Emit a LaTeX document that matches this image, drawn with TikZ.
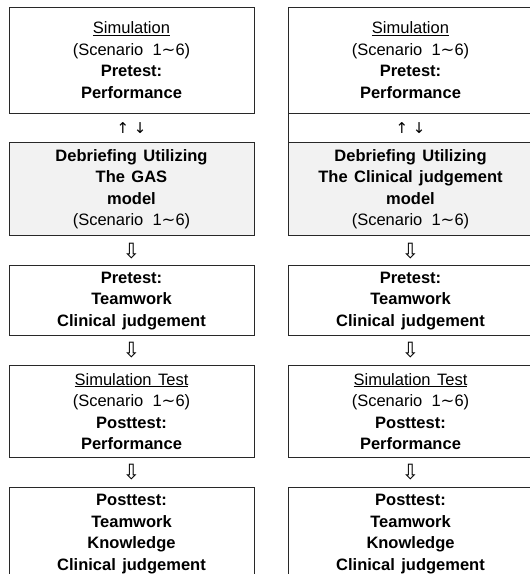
\documentclass[tikz,border=0pt]{standalone}
\usepackage{fontspec}
\setmainfont{Liberation Sans}[WordSpace=1.4]
\newfontfamily\symfont{DejaVu Sans}
\usetikzlibrary{positioning}
\definecolor{BoxLine}{RGB}{40,40,40}
\definecolor{BoxGray}{RGB}{242,242,242}
\newcommand{\scen}{(Scenario \,1{\symfont ∼}6)}

\begin{document}
\begin{tikzpicture}[x=1pt, y=1pt,
    stage/.style={rectangle, draw=BoxLine, line width=0.8pt, minimum width=245pt, align=center, inner sep=0pt, font=\fontsize{16.5}{21.5}\selectfont},
    debrief/.style={stage, fill=BoxGray},
    flow/.style={rectangle, minimum width=245pt, minimum height=29pt, inner sep=0pt, outer sep=0pt, font=\symfont\fontsize{15}{15}\selectfont},
    flowbox/.style={flow, draw=BoxLine, line width=0.8pt},
    next/.style={flow, font=\symfont\fontsize{21}{21}\selectfont}
]
\clip (0,0) rectangle (530,-574);
\useasboundingbox (0,0) rectangle (530,-574);

% left column
\node[stage, minimum height=106pt] (simL) at (131.5,-60) {\underline{Simulation}\\ \scen\\ \textbf{Pretest:}\\ \textbf{Performance}};
\node[flow, below=0pt of simL] (arrL1) {↑ ↓};
\node[debrief, minimum height=93pt, below=0pt of arrL1] (gasL) {\textbf{Debriefing Utilizing}\\ \textbf{The GAS}\\ \textbf{model}\\ \scen};
\node[next, below=0pt of gasL] (arrL2) {⇩};
\node[stage, minimum height=70pt, below=0pt of arrL2] (preL) {\textbf{Pretest:}\\ \textbf{Teamwork}\\ \textbf{Clinical judgement}};
\node[next, below=0pt of preL] (arrL3) {⇩};
\node[stage, minimum height=92pt, below=0pt of arrL3] (testL) {\underline{Simulation Test}\\ \scen\\ \textbf{Posttest:}\\ \textbf{Performance}};
\node[next, below=0pt of testL] (arrL4) {⇩};
\node[stage, minimum height=94pt, below=0pt of arrL4] (postL) {\textbf{Posttest:}\\ \textbf{Teamwork}\\ \textbf{Knowledge}\\ \textbf{Clinical judgement}};

% right column
\node[stage, minimum height=106pt] (simR) at (410.5,-60) {\underline{Simulation}\\ \scen\\ \textbf{Pretest:}\\ \textbf{Performance}};
\node[flowbox, below=0pt of simR] (arrR1) {↑ ↓};
\node[debrief, minimum height=93pt, below=0pt of arrR1] (cjR) {\textbf{Debriefing Utilizing}\\ \textbf{The Clinical judgement}\\ \textbf{model}\\ \scen};
\node[next, below=0pt of cjR] (arrR2) {⇩};
\node[stage, minimum height=70pt, below=0pt of arrR2] (preR) {\textbf{Pretest:}\\ \textbf{Teamwork}\\ \textbf{Clinical judgement}};
\node[next, below=0pt of preR] (arrR3) {⇩};
\node[stage, minimum height=92pt, below=0pt of arrR3] (testR) {\underline{Simulation Test}\\ \scen\\ \textbf{Posttest:}\\ \textbf{Performance}};
\node[next, below=0pt of testR] (arrR4) {⇩};
\node[stage, minimum height=94pt, below=0pt of arrR4] (postR) {\textbf{Posttest:}\\ \textbf{Teamwork}\\ \textbf{Knowledge}\\ \textbf{Clinical judgement}};
\end{tikzpicture}
\end{document}
